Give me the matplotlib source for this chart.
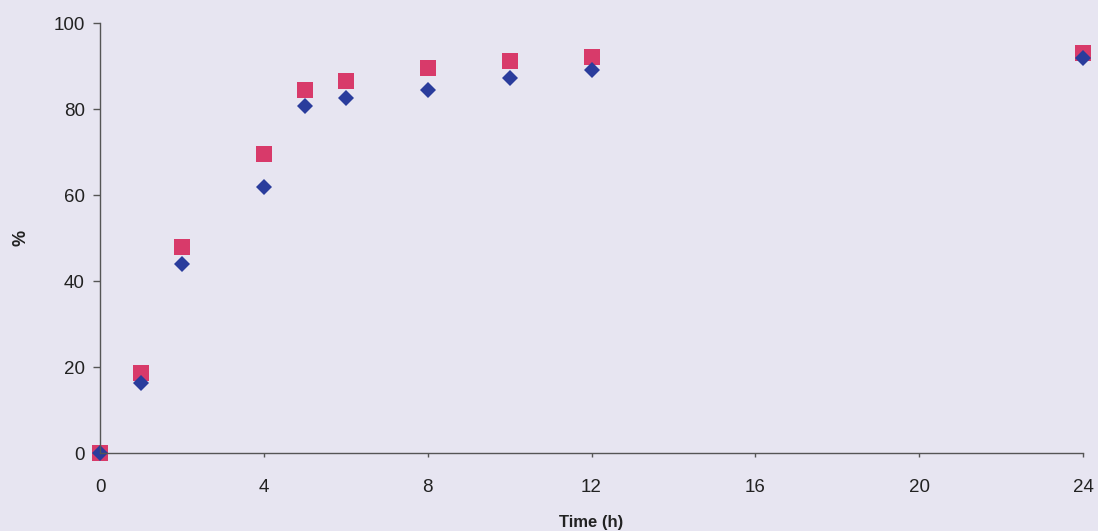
import numpy as np
import matplotlib
matplotlib.use("Agg")
from matplotlib import pyplot as plt

# sampling times (h) and cumulative % for the two series
time_h = [0, 1, 2, 4, 5, 6, 8, 10, 12, 24]
series_blue = [0, 16.3, 44.0, 61.8, 80.8, 82.5, 84.5, 87.2, 89.0, 91.8]
series_red = [0, 18.5, 48.0, 69.5, 84.5, 86.5, 89.5, 91.2, 92.0, 93.0]

x_ticks = [0, 4, 8, 12, 16, 20, 24]
y_ticks = [0, 20, 40, 60, 80, 100]

plt.rcParams['font.family'] = ['Liberation Sans', 'DejaVu Sans']

bg = '#e7e5f1'
fig = plt.figure(figsize=(10.98, 5.31), dpi=100, facecolor=bg)
ax = fig.add_axes([100 / 1098, 78 / 531, 983 / 1098, 430 / 531])
ax.set_facecolor(bg)

ax.plot(time_h, series_red, linestyle='none', marker='s', markersize=11,
        color='#d83a6a', markeredgewidth=0, clip_on=False, zorder=1)
ax.plot(time_h, series_blue, linestyle='none', marker='D', markersize=8.5,
        color='#2a3c9c', markeredgewidth=0, clip_on=False, zorder=2)

ax.set_xlim(0, 24)
ax.set_ylim(0, 100)
ax.set_xticks(x_ticks)
ax.set_yticks(y_ticks)

for side in ('top', 'right'):
    ax.spines[side].set_visible(False)
for side in ('left', 'bottom'):
    ax.spines[side].set_color('#555555')
    ax.spines[side].set_linewidth(1.0)
    ax.spines[side].set_zorder(3)

ax.tick_params(axis='both', colors='#555555', length=5, width=1,
               labelsize=13.5, labelcolor='#222222', direction='out')
ax.tick_params(axis='x', length=3, pad=16)
ax.tick_params(axis='y', pad=6)

ax.set_xlabel('Time (h)', fontsize=12, fontweight='bold', color='#222222')
ax.set_ylabel('%', fontsize=13, fontweight='bold', color='#222222')
ax.xaxis.set_label_coords(0.5, -0.145)
ax.yaxis.set_label_coords(-0.072, 0.5)

fig.savefig('out.png', dpi=100, facecolor=bg)
